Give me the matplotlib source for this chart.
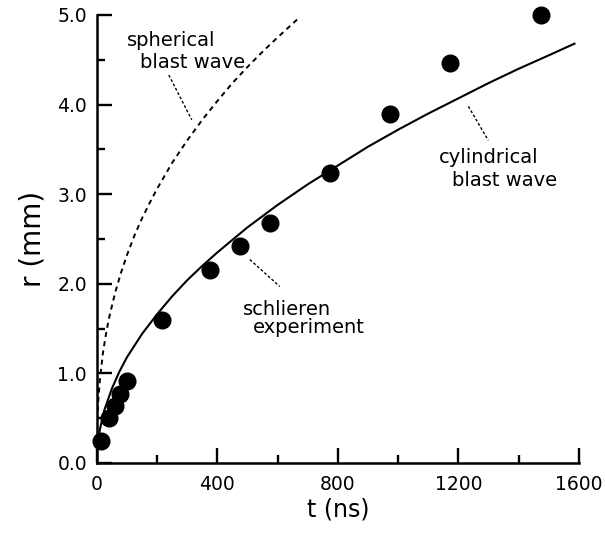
import numpy as np
import matplotlib.pyplot as plt

plt.rcParams['font.family'] = ['DejaVu Sans']

# schlieren experiment points (t in ns, r in mm)
t_exp = [15, 41, 60, 76, 99, 218, 375, 475, 574, 774, 973, 1172, 1473]
r_exp = [0.25, 0.50, 0.64, 0.77, 0.92, 1.60, 2.15, 2.42, 2.68, 3.24, 3.90, 4.46, 5.00]

# cylindrical blast wave curve
t_cyl = [3, 10, 25, 50, 75, 100, 150, 200, 250, 300, 350, 400, 450, 500, 600, 700, 800,
         900, 1000, 1100, 1200, 1300, 1400, 1500, 1585]
r_cyl = [0.20, 0.37, 0.59, 0.83, 1.02, 1.18, 1.44, 1.66, 1.86, 2.04, 2.20, 2.35, 2.49,
         2.63, 2.88, 3.11, 3.32, 3.53, 3.72, 3.90, 4.07, 4.24, 4.40, 4.55, 4.68]

# spherical blast wave curve
t_sph = [1, 2, 5, 10, 20, 30, 40, 60, 80, 100, 125, 150, 175, 200, 250, 300, 350, 400,
         450, 500, 550, 600, 665]
r_sph = [0.37, 0.49, 0.70, 0.92, 1.22, 1.43, 1.61, 1.89, 2.12, 2.32, 2.54, 2.73, 2.90,
         3.06, 3.35, 3.60, 3.83, 4.04, 4.24, 4.42, 4.59, 4.75, 4.95]

x_ticks = [0, 400, 800, 1200, 1600]
y_ticks = [0.0, 1.0, 2.0, 3.0, 4.0, 5.0]

fig = plt.figure(figsize=(6.05, 5.35), dpi=100)
ax = fig.add_axes([0.160, 0.1346, 0.797, 0.8374])

ax.plot(t_sph, r_sph, color='black', lw=1.4, linestyle=(0, (2.6, 2.2)))
ax.plot(t_cyl, r_cyl, color='black', lw=1.5)
ax.plot(t_exp, r_exp, 'o', color='black', ms=12, clip_on=False, zorder=5)

# leader lines
ax.plot([239, 315], [4.33, 3.83], color='black', lw=1.0, linestyle=(0, (2, 1.5)))
ax.plot([1233, 1299], [3.98, 3.60], color='black', lw=1.0, linestyle=(0, (2, 1.5)))
ax.plot([508, 607], [2.27, 1.97], color='black', lw=1.0, linestyle=(0, (2, 1.5)))

fs = 14
ax.text(100, 4.65, 'spherical', fontsize=fs, ha='left', va='baseline')
ax.text(145, 4.41, 'blast wave', fontsize=fs, ha='left', va='baseline')
ax.text(484, 1.65, 'schlieren', fontsize=fs, ha='left', va='baseline')
ax.text(517, 1.45, 'experiment', fontsize=fs, ha='left', va='baseline')
ax.text(1136, 3.35, 'cylindrical', fontsize=fs, ha='left', va='baseline')
ax.text(1178, 3.09, 'blast wave', fontsize=fs, ha='left', va='baseline')

ax.set_xlim(0, 1600)
ax.set_ylim(0, 5.0)
ax.set_xticks(x_ticks)
ax.set_xticks([200, 600, 1000, 1400], minor=True)
ax.set_yticks(y_ticks)
ax.set_yticks([0.5, 1.5, 2.5, 3.5, 4.5], minor=True)
ax.set_yticklabels([f'{v:.1f}' for v in y_ticks])

for s in ['top', 'right']:
    ax.spines[s].set_visible(False)
for s in ['left', 'bottom']:
    ax.spines[s].set_linewidth(1.8)

ax.tick_params(which='major', direction='in', length=11, width=1.7, labelsize=13.5)
ax.tick_params(which='minor', direction='in', length=6, width=1.7)
ax.tick_params(axis='x', which='major', pad=9)
ax.tick_params(axis='y', which='major', pad=7)

ax.set_xlabel('t (ns)', fontsize=17, labelpad=2)
ax.set_ylabel('r (mm)', fontsize=20, labelpad=8)

fig.savefig('out.png', dpi=100)
